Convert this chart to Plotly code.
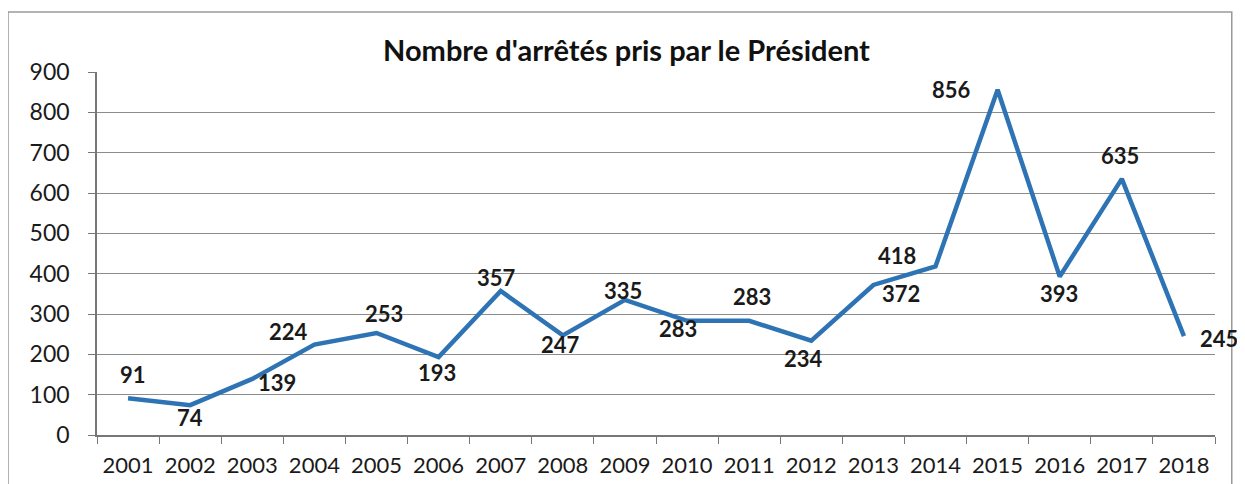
import plotly.graph_objects as go

years = [str(y) for y in range(2001, 2019)]
values = [91, 74, 139, 224, 253, 193, 357, 247, 335, 283, 283, 234, 372, 418, 856, 393, 635, 245]
# label offsets (pixels) relative to each point
label_dx = [5, 0, 25, -26, 7, -2, -4, -2, -2, -9, 3, -8, 28, -39, -46, -1, -2, 35]
label_dy = [24, -12, -4, 13, 19, -15, 14, -9, 9, -8, 24, -18, -9, 11, 0, -17, 23, -2]

title = "Nombre d'arrêtés pris par le Président"
line_color = "#2E74B5"
font_family = "Lato, 'Open Sans', sans-serif"

fig = go.Figure()
fig.add_trace(go.Scatter(
    x=years, y=values, mode="lines",
    line=dict(color=line_color, width=4.5),
    hoverinfo="x+y", showlegend=False,
))

for i, (v, dx, dy) in enumerate(zip(values, label_dx, label_dy)):
    fig.add_annotation(
        x=i, y=v, xref="x", yref="y", text=f"<b>{v}</b>", showarrow=False,
        xshift=dx, yshift=dy,
        font=dict(family=font_family, size=22, color="#1a1a1a"),
    )

fig.add_shape(
    type="rect", xref="paper", yref="paper",
    x0=-0.0796, x1=1.015, y0=-0.3, y1=1.165,
    line=dict(color="#9a9a9a", width=1.5), fillcolor="rgba(0,0,0,0)", layer="below",
)

fig.update_layout(
    width=1237, height=476,
    margin=dict(l=89, r=30, t=64, b=49, autoexpand=False),
    paper_bgcolor="white", plot_bgcolor="white",
    title=dict(text=f"<b>{title}</b>", x=0.5, xanchor="center", y=0.91, yanchor="middle",
               font=dict(family=font_family, size=29, color="#111111")),
    font=dict(family=font_family, color="#1a1a1a"),
)
fig.update_xaxes(
    type="category", tickson="boundaries", ticks="outside", ticklen=7,
    tickcolor="#777777", showline=True, linecolor="#777777", linewidth=1.5,
    showgrid=False, tickfont=dict(size=22, family=font_family, color="#1a1a1a"),
    tickangle=0, automargin=False, ticklabelstandoff=10,
    range=[-0.5, 17.5],
)
fig.update_yaxes(
    range=[0, 900], dtick=100, ticks="outside", ticklen=7, tickcolor="#777777",
    showline=True, linecolor="#777777", linewidth=1.5,
    showgrid=True, gridcolor="#8c8c8c", gridwidth=1.2, zeroline=False,
    tickfont=dict(size=23, family=font_family, color="#1a1a1a"),
    ticklabelstandoff=14, automargin=False,
)

fig.write_html("out.html")
